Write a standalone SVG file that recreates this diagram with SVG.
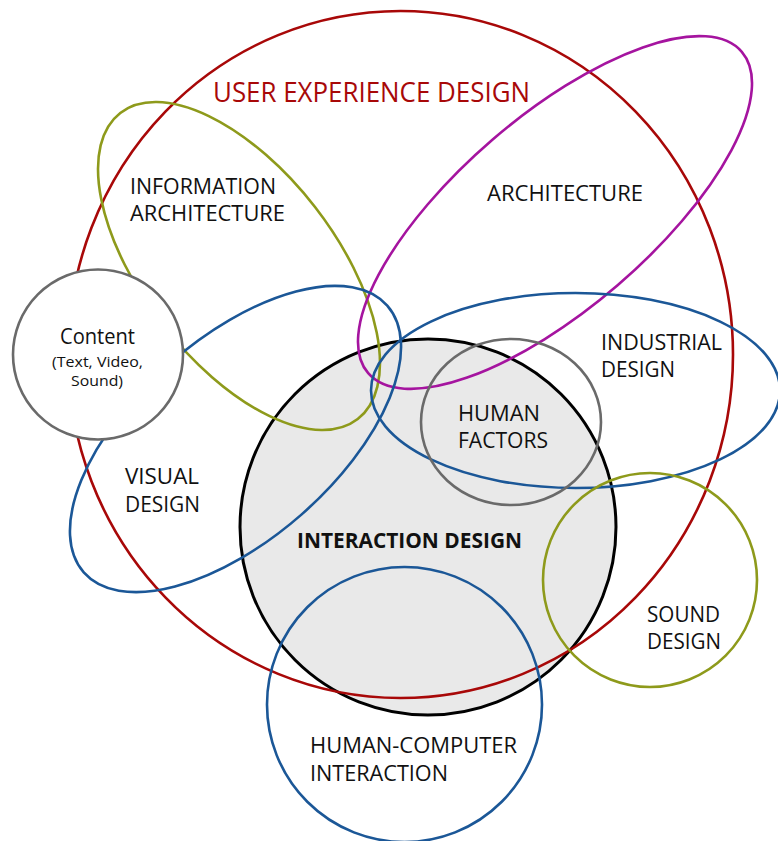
<svg xmlns="http://www.w3.org/2000/svg" width="778" height="841" viewBox="0 0 778 841">
<style>
.o{fill:none;stroke-width:2.6}
.t{font-family:"Open Sans","Liberation Sans",sans-serif;font-size:21px;fill:#111}
.s{font-size:15px}
</style>
<rect width="778" height="841" fill="#fff"/>
<g id="interaction-design"><circle cx="428" cy="527" r="188" fill="#e9e9e9" stroke="#000" stroke-width="3"/></g>
<g id="ux-design"><ellipse class="o" cx="400.5" cy="354.5" rx="332.5" ry="343.5" stroke="#a80808"/></g>
<g id="information-architecture"><ellipse class="o" cx="239" cy="266" rx="193.7" ry="96.2" transform="rotate(52.2 239 266)" stroke="#8e9a1b"/></g>
<g id="architecture"><ellipse class="o" cx="555" cy="212.5" rx="246.4" ry="96" transform="rotate(-40.7 555 212.5)" stroke="#a5149f"/></g>
<g id="visual-design"><ellipse class="o" cx="235.5" cy="439" rx="202" ry="100.3" transform="rotate(-41.3 235.5 439)" stroke="#1b5797"/></g>
<g id="industrial-design"><ellipse class="o" cx="575.5" cy="390.5" rx="204.5" ry="97.5" stroke="#1b5797"/></g>
<g id="human-factors"><ellipse class="o" cx="511" cy="422" rx="90" ry="83" stroke="#6a6a6a"/></g>
<g id="sound-design"><circle class="o" cx="650" cy="580" r="107" stroke="#8e9a1b"/></g>
<g id="hci"><circle class="o" cx="404.5" cy="704.5" r="137.5" stroke="#1b5797"/></g>
<g id="content"><circle cx="98" cy="354.5" r="85" fill="#fff" stroke="#6a6a6a" stroke-width="2.6"/>
<text class="t" x="60" y="344" font-size="22" textLength="75" lengthAdjust="spacingAndGlyphs">Content</text>
<text class="t s" x="52" y="367" textLength="91" lengthAdjust="spacingAndGlyphs">(Text, Video,</text>
<text class="t s" x="71" y="386" textLength="52" lengthAdjust="spacingAndGlyphs">Sound)</text>
</g>
<g id="labels">
<text x="213" y="102" style="font-family:'Open Sans','Liberation Sans',sans-serif;font-size:27px;fill:#a80808" textLength="317" lengthAdjust="spacingAndGlyphs">USER EXPERIENCE DESIGN</text>
<text class="t" x="130" y="194" textLength="146" lengthAdjust="spacingAndGlyphs">INFORMATION</text>
<text class="t" x="130" y="221" textLength="155" lengthAdjust="spacingAndGlyphs">ARCHITECTURE</text>
<text class="t" x="487" y="201" textLength="156" lengthAdjust="spacingAndGlyphs">ARCHITECTURE</text>
<text class="t" x="601" y="350" textLength="121" lengthAdjust="spacingAndGlyphs">INDUSTRIAL</text>
<text class="t" x="601" y="377" textLength="74" lengthAdjust="spacingAndGlyphs">DESIGN</text>
<text class="t" x="458" y="421" textLength="82" lengthAdjust="spacingAndGlyphs">HUMAN</text>
<text class="t" x="458" y="448" textLength="90" lengthAdjust="spacingAndGlyphs">FACTORS</text>
<text class="t" x="125" y="484" textLength="74" lengthAdjust="spacingAndGlyphs">VISUAL</text>
<text class="t" x="125" y="512" textLength="75" lengthAdjust="spacingAndGlyphs">DESIGN</text>
<text class="t" x="297" y="548" style="font-weight:bold" textLength="225" lengthAdjust="spacingAndGlyphs">INTERACTION DESIGN</text>
<text class="t" x="647" y="622" textLength="73" lengthAdjust="spacingAndGlyphs">SOUND</text>
<text class="t" x="647" y="649" textLength="74" lengthAdjust="spacingAndGlyphs">DESIGN</text>
<text class="t" x="310" y="753" textLength="207" lengthAdjust="spacingAndGlyphs">HUMAN-COMPUTER</text>
<text class="t" x="310" y="781" textLength="138" lengthAdjust="spacingAndGlyphs">INTERACTION</text>
</g>
</svg>
